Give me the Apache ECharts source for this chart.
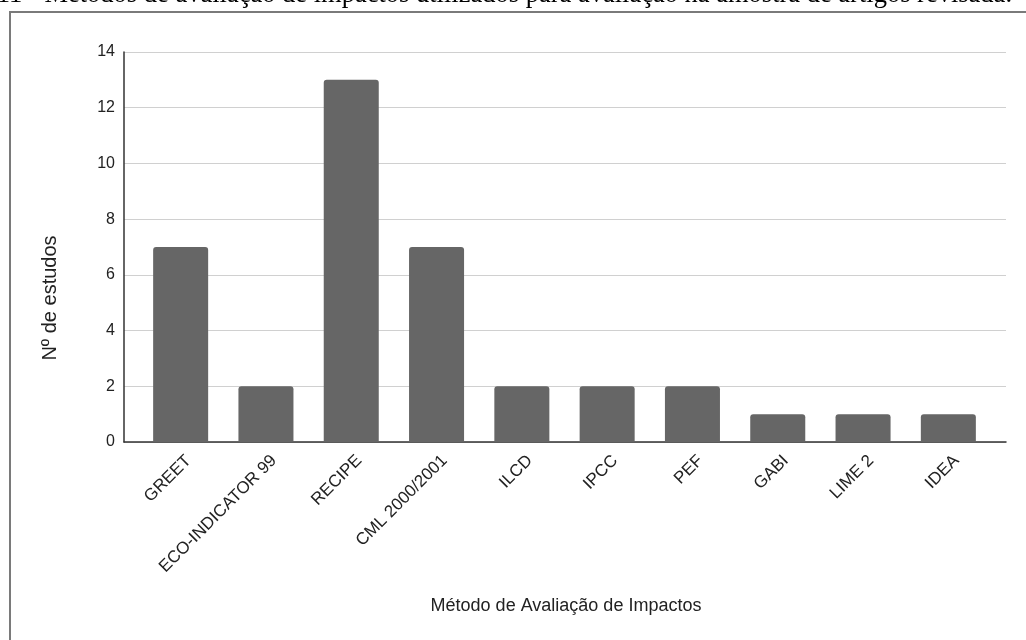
<!DOCTYPE html>
<html>
<head>
<meta charset="utf-8">
<script src="https://cdn.jsdelivr.net/npm/echarts@6/dist/echarts.min.js"></script>
<style>
  html, body { margin: 0; padding: 0; background: #fff; }
  #chart { width: 1026px; height: 640px; }
</style>
</head>
<body>
<div id="chart"></div>
<script>
// Methods and how many reviewed studies used each one
const methods = ['GREET', 'ECO-INDICATOR 99', 'RECIPE', 'CML 2000/2001', 'ILCD', 'IPCC', 'PEF', 'GABI', 'LIME 2', 'IDEA'];
const studyCounts = [7, 2, 13, 7, 2, 2, 2, 1, 1, 1];
const yTicks = { min: 0, max: 14, step: 2 };
const captionText = '11 - Métodos de avaliação de impactos utilizados para avaliação na amostra de artigos revisada.';
const xTitle = 'Método de Avaliação de Impactos';
const yTitle = 'Nº de estudos';

const chart = echarts.init(document.getElementById('chart'), null, { renderer: 'canvas' });
const sans = '"Liberation Sans", Arial, sans-serif';
const tickFont = { fontFamily: sans, fontSize: 16, color: '#222' };
const categoryFont = { fontFamily: sans, fontSize: 17, color: '#222' };

// shared vertical extent of the plot
const plotTop = 52, plotBottom = 198;
// bar bands, and the rotated labels set a little to the right of each band centre
const barLeft = 138, barRight = 35, labelShift = 8;

chart.setOption({
  animation: false,
  backgroundColor: '#fff',
  graphic: [
    {
      type: 'rect',
      shape: { x: 10, y: 12, width: 1100, height: 700 },
      style: { fill: 'none', stroke: '#7a7a7a', lineWidth: 2 }
    },
    {
      type: 'text',
      x: 1012, y: 9,
      style: {
        text: captionText,
        align: 'right', verticalAlign: 'bottom',
        font: '26.5px "Liberation Serif", "Times New Roman", serif',
        fill: '#000'
      }
    },
    {
      type: 'text',
      x: 566, y: 606,
      style: {
        text: xTitle, align: 'center', verticalAlign: 'middle',
        font: '18px ' + sans, fill: '#222'
      }
    },
    {
      type: 'text',
      x: 50, y: 298, rotation: Math.PI / 2,
      style: {
        text: yTitle, align: 'center', verticalAlign: 'middle',
        font: '20px ' + sans, fill: '#222'
      }
    }
  ],
  grid: [
    // frame grid: y axis line, gridlines and baseline
    { left: 124, right: 20, top: plotTop, bottom: plotBottom },
    // bar grid: category bands
    { left: barLeft, right: barRight, top: plotTop, bottom: plotBottom },
    // label grid: same bands, offset for the rotated category names
    { left: barLeft + labelShift, right: barRight - labelShift, top: plotTop, bottom: plotBottom }
  ],
  xAxis: [
    {
      gridIndex: 0, type: 'value', min: 0, max: 1,
      axisLine: { show: true, onZero: false, lineStyle: { color: '#333', width: 1.5 } },
      axisTick: { show: false }, axisLabel: { show: false }, splitLine: { show: false }
    },
    {
      gridIndex: 1, type: 'category', data: methods,
      axisLine: { show: false }, axisTick: { show: false }, axisLabel: { show: false }
    },
    {
      gridIndex: 2, type: 'category', data: methods,
      axisLine: { show: false }, axisTick: { show: false },
      axisLabel: { ...categoryFont, rotate: 45, margin: 16, interval: 0 }
    }
  ],
  yAxis: [
    {
      gridIndex: 0, type: 'value', min: yTicks.min, max: yTicks.max, interval: yTicks.step,
      axisLine: { show: true, lineStyle: { color: '#333', width: 1.5 } },
      axisTick: { show: false },
      axisLabel: { ...tickFont, margin: 9 },
      splitLine: { show: true, lineStyle: { color: '#d0d0d0', width: 1 } }
    },
    {
      gridIndex: 1, type: 'value', min: yTicks.min, max: yTicks.max, interval: yTicks.step,
      axisLine: { show: false }, axisTick: { show: false }, axisLabel: { show: false },
      splitLine: { show: false }
    },
    {
      gridIndex: 2, type: 'value', min: yTicks.min, max: yTicks.max, interval: yTicks.step,
      axisLine: { show: false }, axisTick: { show: false }, axisLabel: { show: false },
      splitLine: { show: false }
    }
  ],
  series: [
    {
      type: 'bar', xAxisIndex: 1, yAxisIndex: 1,
      data: studyCounts,
      barCategoryGap: '35.5%',
      itemStyle: { color: '#666666', borderRadius: [3, 3, 0, 0] }
    }
  ]
});
</script>
</body>
</html>
